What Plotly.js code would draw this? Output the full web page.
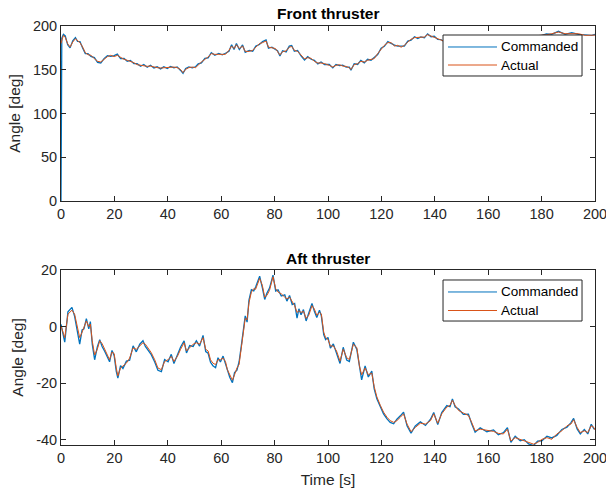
<!DOCTYPE html>
<html>
<head>
<meta charset="utf-8">
<script src="https://cdn.plot.ly/plotly-3.0.1.min.js"></script>
<style>
  html, body { margin: 0; padding: 0; background: #fff; }
  #chart { width: 606px; height: 495px; }
</style>
</head>
<body>
<div id="chart"></div>
<script>
// Front thruster: time [s], commanded and actual angle [deg]
const frontTime = [
  0, 0.3, 0.9, 1.6, 2.5, 3.4, 4.4, 5.4, 6.2, 7.1,
  8.1, 9.1, 10.1, 11.2, 12.5, 13.7, 14.9, 16.2, 17.4, 18.6,
  19.9, 21.1, 22.3, 23.6, 24.8, 26.0, 27.3, 28.5, 29.8, 31.0,
  32.3, 33.5, 34.8, 36.0, 37.3, 38.5, 39.8, 41.0, 42.3, 43.5,
  44.8, 45.7, 46.7, 47.9, 49.2, 50.4, 51.4, 52.6, 53.9, 55.1,
  56.3, 57.6, 59.1, 60.4, 61.6, 62.9, 63.9, 64.8, 65.7, 66.8,
  68.0, 69.0, 70.5, 71.8, 73.0, 74.3, 75.5, 76.8, 77.7, 79.0,
  80.3, 81.1, 82.0, 83.0, 84.3, 85.5, 86.4, 87.4, 88.6, 89.9,
  91.2, 92.4, 93.7, 94.9, 96.2, 97.4, 98.7, 100.5, 101.8, 103.0,
  104.3, 105.5, 106.8, 108.0, 108.6, 109.8, 111.1, 112.3, 113.6, 114.8,
  116.1, 117.3, 118.6, 119.9, 121.1, 122.4, 123.6, 124.9, 126.1, 127.4,
  128.6, 129.9, 131.1, 132.4, 133.6, 134.8, 136.1, 137.3, 138.6, 139.8,
  141.1, 142.3, 144.0, 146.0, 150.0, 155.0, 160.0, 165.0, 170.0, 175.0,
  179.0, 181.8, 183.8, 186.3, 188.8, 191.3, 193.8, 196.3, 198.8, 200.0
];
const frontCommanded = [
  0, 186, 190.5, 188.6, 178.5, 175, 183, 186.8, 182.5, 182.2,
  174.8, 168.4, 168.5, 165.3, 163.9, 158.4, 157.8, 163, 166.2, 165.4,
  166.1, 167.8, 162.7, 163, 159.7, 160.7, 157, 156.9, 154, 156,
  152.9, 155.2, 152.1, 153.4, 151, 153.4, 151.5, 153.8, 152.2, 153.3,
  149.2, 145.8, 151.5, 153.3, 152.2, 153.4, 156.8, 157.9, 163, 163.6,
  169.6, 166.5, 168.7, 167, 168.8, 171.2, 178.5, 173.2, 179.9, 173.1,
  178.3, 170, 172.1, 171.2, 177, 178.8, 182.2, 184, 174.7, 175.8,
  173.2, 171.8, 165.8, 171.8, 170.4, 177, 177.7, 171.1, 172.1, 165.8,
  161.2, 164.9, 162, 160.7, 156.7, 158.8, 156, 156, 152.1, 156.1,
  154.8, 155.2, 152.9, 153, 149.5, 156.9, 156, 160.7, 157.9, 161.9,
  160.9, 163.8, 167.3, 174.5, 176.8, 182.1, 180, 178.2, 176.9, 176.9,
  176.9, 182.8, 183.8, 187.7, 185.8, 187.6, 186.5, 191, 187.7, 188.3,
  184.6, 184.5, 181.2, 184.9, 185.2, 187.9, 187.2, 187.9, 188.2, 188.9,
  188.2, 190.9, 190.4, 193.9, 190.4, 192.3, 190.4, 190.1, 189.2, 190.3
];
const frontActual = [
  180, 184, 189.3, 187, 179.8, 176, 181.7, 185.5, 183.6, 181,
  176, 169.5, 167.2, 166.5, 162.7, 159.6, 158.9, 161.9, 165, 166.5,
  165, 166.5, 163.8, 161.9, 160.8, 159.6, 158.1, 155.8, 155, 155,
  153.9, 154.2, 153.1, 152.4, 152, 152.4, 152.4, 152.8, 153.1, 152.4,
  150.1, 146.7, 150.5, 152.4, 153.1, 152.4, 155.8, 158.9, 161.9, 164.6,
  168.4, 167.6, 167.6, 168, 167.6, 172.2, 177.1, 174.3, 178.6, 174.3,
  177.1, 171, 171, 172.2, 175.8, 179.8, 181, 182.9, 175.8, 174.7,
  174.3, 170.7, 166.9, 170.7, 171.5, 175.8, 176.6, 172.2, 171, 166.9,
  162.3, 163.8, 163, 159.6, 157.7, 157.7, 157, 155, 153.1, 155,
  155.8, 154.2, 153.9, 152, 150.4, 155.8, 157, 159.6, 158.9, 160.8,
  161.9, 162.7, 168.4, 173.3, 177.9, 181, 181, 177.1, 177.9, 175.8,
  177.9, 181.7, 184.8, 186.7, 186.7, 186.7, 187.4, 190.1, 188.6, 187.4,
  185.5, 183.6, 182, 184, 186, 187, 188, 187, 189, 188,
  189, 190, 191.2, 193.1, 191.2, 191.5, 191.2, 189.3, 190, 189.6
];

// Aft thruster: time [s], commanded and actual angle [deg]
const aftTime = [
  0, 1.4, 2.6, 4.1, 5.1, 6.1, 7.0, 7.9, 8.6, 9.5,
  10.4, 11.0, 11.7, 12.6, 13.6, 14.5, 15.4, 16.4, 17.4, 18.2,
  19.1, 19.9, 20.7, 21.3, 22.3, 23.2, 24.5, 25.7, 27.0, 28.2,
  29.5, 30.7, 31.6, 32.6, 33.8, 35.1, 36.3, 37.6, 38.8, 40.1,
  41.3, 42.3, 43.6, 44.8, 46.1, 47.0, 48.2, 49.5, 50.7, 51.9,
  53.2, 54.2, 55.1, 56.0, 56.9, 57.9, 58.8, 59.7, 60.7, 61.6,
  62.3, 63.2, 64.2, 65.0, 65.9, 66.7, 67.5, 68.4, 69.0, 69.7,
  70.4, 71.3, 72.2, 72.9, 73.8, 74.4, 75.4, 76.3, 77.1, 78.1,
  79.4, 80.4, 81.3, 82.5, 83.8, 84.6, 85.6, 86.6, 87.5, 88.4,
  89.1, 89.9, 90.8, 91.8, 92.8, 94.0, 94.9, 95.8, 96.8, 97.5,
  98.4, 99.1, 100.0, 100.9, 102.0, 103.2, 104.5, 105.7, 107.0, 108.0,
  109.5, 110.8, 111.8, 112.6, 113.9, 115.1, 116.4, 117.3, 118.3, 119.6,
  120.8, 122.1, 123.3, 124.6, 125.8, 127.1, 128.3, 129.6, 131.1, 132.7,
  134.6, 136.5, 138.4, 139.6, 141.1, 142.6, 144.5, 145.7, 146.6, 147.6,
  148.9, 150.7, 152.6, 153.8, 155.1, 157.0, 159.5, 162.0, 163.8, 165.7,
  167.2, 168.5, 170.1, 172.0, 173.5, 175.1, 177.0, 178.5, 180.1, 182.0,
  183.8, 185.7, 187.6, 189.5, 191.0, 192.0, 193.3, 194.5, 196.0, 197.3,
  198.6, 199.6, 200.0
];
const aftCommanded = [
  0.8, -5.5, 5.2, 6.8, 3.6, -1.2, -6.2, -1.2, -0.8, 2.8,
  -0.8, 1.8, -6.2, -11.7, -7.2, -4.6, -7, -8.8, -10.8, -12.4,
  -8.4, -10.2, -15.8, -18.2, -13.8, -14.8, -12.2, -11.9, -6.8, -8.9,
  -6.2, -5, -7, -8.2, -9.9, -12.5, -15.4, -15.9, -11.6, -12.4,
  -9.8, -13, -9.9, -7.2, -5, -9.3, -6.7, -7, -5, -6.9,
  -3.1, -8.8, -9.4, -12.6, -13.8, -14.5, -11, -12.5, -10.4, -13.2,
  -16, -17.9, -19.8, -16.2, -15.4, -12.4, -7, -1.4, 3.8, 1.6,
  9.4, 13, 12.6, 14, 16, 17.8, 13.8, 9.6, 11.8, 13.6,
  18.2, 12.6, 13, 10.8, 11.2, 9, 11, 7.8, 8.2, 3,
  6.3, 4.2, 6, 2, 4.8, 8.2, 5.4, 3.2, 5.8, 3.8,
  -2.8, -4.6, -3.8, -7.6, -6.1, -9.3, -13, -7.3, -11.8, -12.3,
  -5.5, -8.1, -14.8, -18.8, -13.9, -17.8, -15.7, -22, -25.5, -28.4,
  -30.8, -32.6, -33.8, -34.3, -32.7, -31.5, -30.2, -35, -37.6, -35.1,
  -33.6, -34.9, -32.7, -30.3, -34.6, -30.3, -27.9, -28.3, -25.5, -28.3,
  -29.1, -31, -30.9, -34.3, -37.3, -35.7, -37.1, -36.5, -38.2, -37.4,
  -35.7, -40.9, -38.7, -40.3, -39.9, -41.4, -42, -40.4, -40.3, -38.7,
  -39.3, -38.4, -36.3, -35.5, -33.9, -32.4, -36.1, -37.9, -36.3, -37.9,
  -34.5, -36.1, -36
];
const aftActual = [
  0.2, -3.9, 4.4, 5.8, 4.4, 0.3, -3.9, -2, 0, 2,
  0, 0.9, -5, -10, -8, -5, -6, -8, -10, -11.7,
  -9, -9.5, -14.6, -17.4, -14.6, -14, -12.9, -11.1, -7.5, -8,
  -6.9, -5.7, -6.2, -7.5, -9.2, -11.7, -14.6, -15.2, -12.3, -11.7,
  -10.5, -12.3, -10.5, -8, -5.7, -8.6, -7.4, -6.2, -5.7, -6.2,
  -3.9, -8, -8.6, -11.7, -12.9, -13.4, -11.7, -11.7, -11.1, -12.3,
  -15.2, -17.1, -18.9, -17, -14.6, -13.4, -8, -2.4, 2.9, 2.4,
  8.4, 12.2, 13.4, 13.2, 15.2, 17, 14.6, 10.4, 11, 12.8,
  17.6, 13.4, 12.2, 11.6, 10.4, 9.8, 10.4, 8.6, 7.4, 5,
  5.6, 5, 5.4, 2.9, 4, 7.4, 6.2, 4, 5, 4.5,
  -2, -3.9, -4.5, -6.9, -6.8, -8.6, -12.2, -8, -11, -11.6,
  -6.2, -7.4, -14, -17, -14.6, -17, -16.4, -21.2, -24.8, -27.8,
  -30.2, -32, -33.2, -33.8, -33.2, -32, -30.8, -34.4, -37.1, -35.6,
  -34.1, -34.4, -33.2, -30.8, -34.1, -30.8, -28.4, -27.8, -26, -27.8,
  -29.6, -30.5, -31.4, -33.8, -36.8, -36.2, -36.6, -37, -37.7, -37.9,
  -36.2, -40.4, -39.2, -39.8, -40.4, -40.9, -41.5, -40.9, -39.8, -39.2,
  -39.8, -37.9, -36.8, -35, -34.4, -32.9, -35.6, -37.4, -36.8, -37.4,
  -35, -35.6, -36.5
];

// Axis ticks and legend entries
const timeTicks = [0, 20, 40, 60, 80, 100, 120, 140, 160, 180, 200];
const frontTicks = [0, 50, 100, 150, 200];
const aftTicks = [-40, -20, 0, 20];
const aftTickText = ['-40', '-20', '0', '20'];
const seriesNames = ['Commanded', 'Actual'];

const blue = '#0072BD';
const orange = '#D95319';
const ink = '#262626';
const family = '"Liberation Sans", Arial, Helvetica, sans-serif';

const traces = [
  { x: frontTime, y: frontCommanded, name: seriesNames[0], type: 'scatter', mode: 'lines',
    line: { color: blue, width: 1.3 }, xaxis: 'x', yaxis: 'y' },
  { x: frontTime, y: frontActual, name: seriesNames[1], type: 'scatter', mode: 'lines',
    line: { color: orange, width: 1 }, xaxis: 'x', yaxis: 'y' },
  { x: aftTime, y: aftCommanded, name: seriesNames[0], type: 'scatter', mode: 'lines',
    line: { color: blue, width: 1.3 }, xaxis: 'x2', yaxis: 'y2' },
  { x: aftTime, y: aftActual, name: seriesNames[1], type: 'scatter', mode: 'lines',
    line: { color: orange, width: 1 }, xaxis: 'x2', yaxis: 'y2' }
];

const axisBase = {
  showline: true, linecolor: ink, linewidth: 1, mirror: 'ticks',
  ticks: 'inside', ticklen: 5, tickwidth: 1, tickcolor: ink,
  showgrid: false, zeroline: false, ticklabeloverflow: 'allow',
  tickfont: { family: family, size: 14.5, color: ink }
};

// Boxed legend in the upper right corner of a panel (paper coordinates)
function legendBox(top, bottom, rowA, rowB) {
  const boxX0 = 0.7154, boxX1 = 0.9757, lineX0 = 0.7247, lineX1 = 0.8165, textX = 0.8200;
  const shapes = [
    { type: 'rect', xref: 'paper', yref: 'paper', x0: boxX0, x1: boxX1, y0: bottom, y1: top,
      fillcolor: '#ffffff', line: { color: ink, width: 1 }, layer: 'above' },
    { type: 'line', xref: 'paper', yref: 'paper', x0: lineX0, x1: lineX1, y0: rowA, y1: rowA,
      line: { color: blue, width: 1 }, layer: 'above' },
    { type: 'line', xref: 'paper', yref: 'paper', x0: lineX0, x1: lineX1, y0: rowB, y1: rowB,
      line: { color: orange, width: 1 }, layer: 'above' }
  ];
  const labels = [rowA, rowB].map((y, i) => ({
    text: seriesNames[i], xref: 'paper', yref: 'paper', x: textX, y: y,
    xanchor: 'left', yanchor: 'middle', showarrow: false,
    font: { family: family, size: 13.5, color: '#000' }
  }));
  return { shapes, labels };
}

const frontLegend = legendBox(0.9785, 0.8807, 0.9499, 0.9069);
const aftLegend = legendBox(0.3938, 0.2959, 0.3652, 0.3210);

const layout = {
  width: 606, height: 495,
  margin: { l: 61, r: 11, t: 26, b: 50 },
  paper_bgcolor: '#ffffff', plot_bgcolor: '#ffffff',
  font: { family: family, color: ink },
  showlegend: false,
  xaxis: Object.assign({}, axisBase, {
    domain: [0, 1], range: [0, 200], tickmode: 'array', tickvals: timeTicks, anchor: 'y'
  }),
  yaxis: Object.assign({}, axisBase, {
    domain: [0.5823, 1], range: [0, 200], tickmode: 'array', tickvals: frontTicks, anchor: 'x',
    title: { text: 'Angle [deg]', font: { family: family, size: 15.5, color: ink }, standoff: 8 }
  }),
  xaxis2: Object.assign({}, axisBase, {
    domain: [0, 1], range: [0, 200], tickmode: 'array', tickvals: timeTicks, anchor: 'y2',
    title: { text: 'Time [s]', font: { family: family, size: 15.5, color: ink }, standoff: 8 }
  }),
  yaxis2: Object.assign({}, axisBase, {
    domain: [0, 0.4177], range: [-41.8, 20], tickmode: 'array',
    tickvals: aftTicks, ticktext: aftTickText, anchor: 'x2',
    title: { text: 'Angle [deg]', font: { family: family, size: 15.5, color: ink }, standoff: 8 }
  }),
  shapes: frontLegend.shapes.concat(aftLegend.shapes),
  annotations: [
    { text: '<b>Front thruster</b>', xref: 'paper', yref: 'paper', x: 0.5, y: 1.031,
      xanchor: 'center', yanchor: 'middle', showarrow: false,
      font: { family: family, size: 15.5, color: '#000' } },
    { text: '<b>Aft thruster</b>', xref: 'paper', yref: 'paper', x: 0.5, y: 0.4463,
      xanchor: 'center', yanchor: 'middle', showarrow: false,
      font: { family: family, size: 15.5, color: '#000' } }
  ].concat(frontLegend.labels, aftLegend.labels)
};

Plotly.newPlot('chart', traces, layout, { staticPlot: true, displayModeBar: false });
</script>
</body>
</html>
